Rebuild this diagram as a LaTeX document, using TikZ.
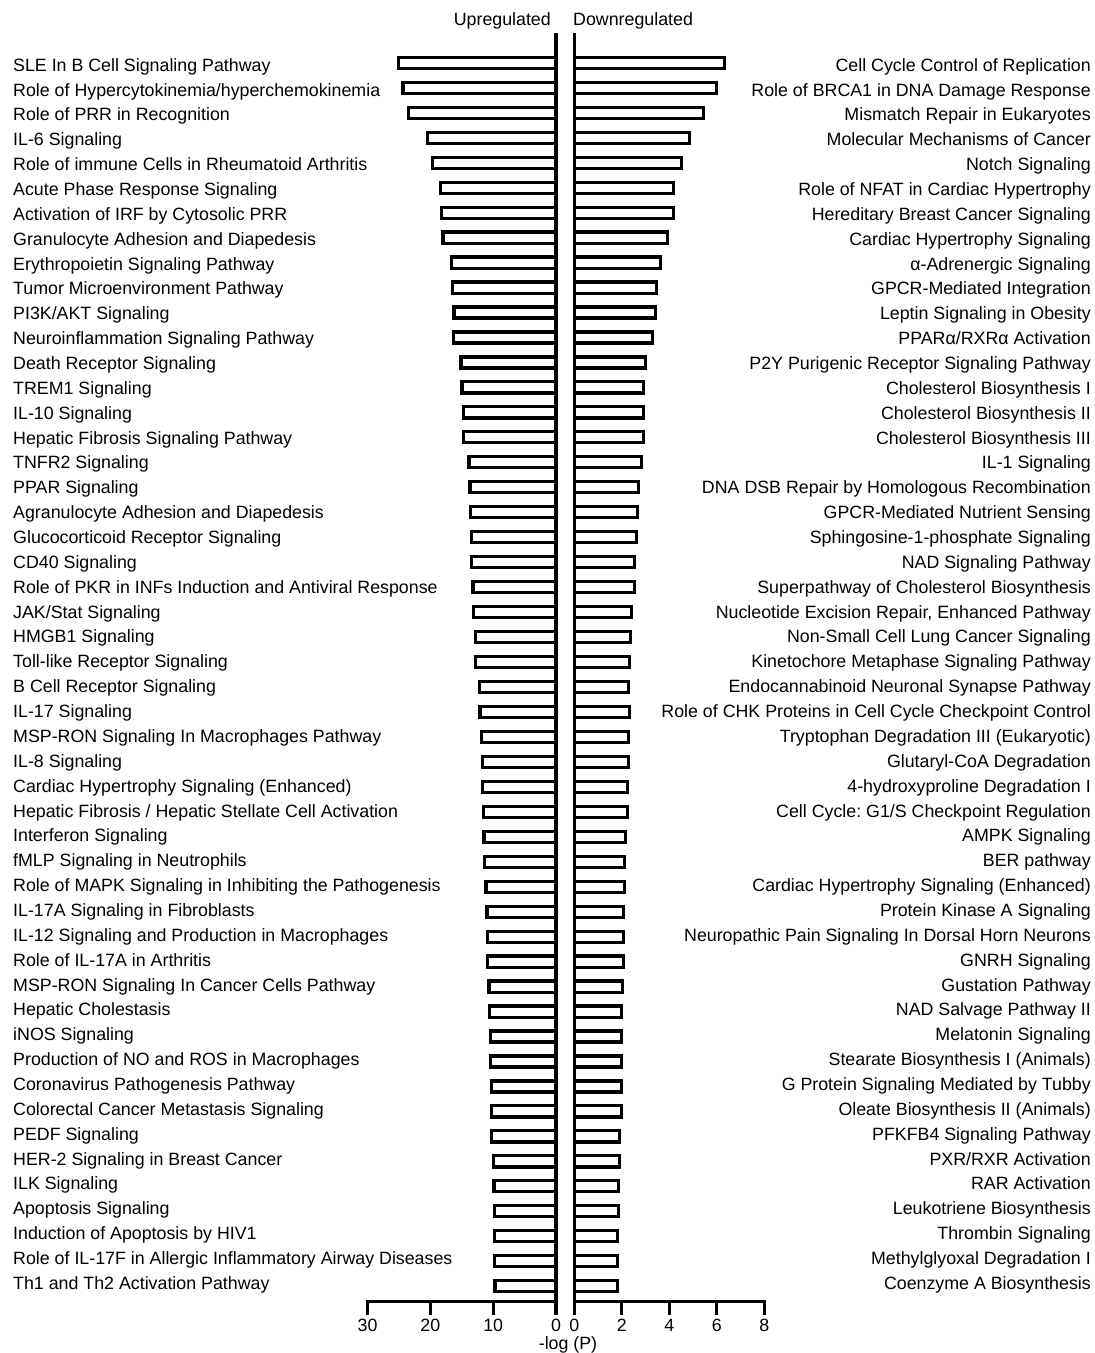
\documentclass[tikz,border=0pt]{standalone}
\usepackage{fontspec}
\setmainfont{Liberation Sans}
\frenchspacing
\begin{document}
\begin{tikzpicture}[x=1pt,y=-1pt,
  lab/.style={inner sep=0pt,font=\fontsize{17.8}{20}\selectfont\frenchspacing},
  barbox/.style={draw=black,line width=3.2pt,fill=white},
  axisline/.style={line width=3.2pt,line join=miter}]
\useasboundingbox (0,0) rectangle (1095,1353);
\clip (0,0) rectangle (1095,1353);
% bars
\foreach \xl/\xr [count=\i] in {396.7/725.7,401.3/718.3,406.7/705.3,426/690.7,430.7/683.3,439/675,440/675,441.3/669.3,449.7/661.7,451/658.3,452.3/656.7,452/653.7,459.3/646.7,460.3/645,462/644.7,462/644.7,467.3/643.3,468.3/640,469/639.3,470/637.7,470/636.3,471.3/636,472/633.3,474/632,474/630.7,477.7/630.3,478.3/630.7,480/630,480.7/630,481/629.3,481.7/628.7,482.3/627,482.7/626,484.3/626,485.3/625,486/625,486/625,487.3/624.3,488/623.3,488.7/623.3,488.7/623.3,489.7/623.3,490/622.7,490/621,491.7/621,492.3/620,492.7/620,493/619.3,493/619,493.3/618.7}{
  \pgfmathsetmacro{\yc}{62.85+(\i-1)*24.966}
  \draw[barbox] (\xl+1.6,\yc-5.55) rectangle (556,\yc+5.55);
  \draw[barbox] (574.3,\yc-5.55) rectangle (\xr-1.6,\yc+5.55);
}
% axes
\draw[axisline] (367.5,1315) -- (367.5,1301.7) -- (556,1301.7) -- (556,33.3);
\draw[axisline] (574.3,33.3) -- (574.3,1301.7) -- (764.3,1301.7) -- (764.3,1315);
\foreach \x/\t [count=\k] in {367.5/30,430.3/20,493.2/10,556/0}{
  \draw[line width=3.2pt] (\x,1301.7) -- (\x,1315);
  \node[lab,anchor=base] (tl\k) at (\x,1331.7) {\t};
}
\foreach \x/\t [count=\k] in {574.3/0,621.8/2,669.3/4,716.8/6,764.3/8}{
  \draw[line width=3.2pt] (\x,1301.7) -- (\x,1315);
  \node[lab,anchor=base] (tr\k) at (\x,1331.7) {\t};
}
\node[lab,anchor=base] (xlabel) at (568,1349) {-log (P)};
\node[lab,anchor=base east] (up) at (551,25) {Upregulated};
\node[lab,anchor=base west] (down) at (573,25) {Downregulated};
% left labels
\foreach \t [count=\i] in {
{SLE In B Cell Signaling Pathway},
{Role of Hypercytokinemia/hyperchemokinemia},
{Role of PRR in Recognition},
{IL-6 Signaling},
{Role of immune Cells in Rheumatoid Arthritis},
{Acute Phase Response Signaling},
{Activation of IRF by Cytosolic PRR},
{Granulocyte Adhesion and Diapedesis},
{Erythropoietin Signaling Pathway},
{Tumor Microenvironment Pathway},
{PI3K/AKT Signaling},
{Neuroinflammation Signaling Pathway},
{Death Receptor Signaling},
{TREM1 Signaling},
{IL-10 Signaling},
{Hepatic Fibrosis Signaling Pathway},
{TNFR2 Signaling},
{PPAR Signaling},
{Agranulocyte Adhesion and Diapedesis},
{Glucocorticoid Receptor Signaling},
{CD40 Signaling},
{Role of PKR in INFs Induction and Antiviral Response},
{JAK/Stat Signaling},
{HMGB1 Signaling},
{Toll-like Receptor Signaling},
{B Cell Receptor Signaling},
{IL-17 Signaling},
{MSP-RON Signaling In Macrophages Pathway},
{IL-8 Signaling},
{Cardiac Hypertrophy Signaling (Enhanced)},
{Hepatic Fibrosis / Hepatic Stellate Cell Activation},
{Interferon Signaling},
{fMLP Signaling in Neutrophils},
{Role of MAPK Signaling in Inhibiting the Pathogenesis},
{IL-17A Signaling in Fibroblasts},
{IL-12 Signaling and Production in Macrophages},
{Role of IL-17A in Arthritis},
{MSP-RON Signaling In Cancer Cells Pathway},
{Hepatic Cholestasis},
{iNOS Signaling},
{Production of NO and ROS in Macrophages},
{Coronavirus Pathogenesis Pathway},
{Colorectal Cancer Metastasis Signaling},
{PEDF Signaling},
{HER-2 Signaling in Breast Cancer},
{ILK Signaling},
{Apoptosis Signaling},
{Induction of Apoptosis by HIV1},
{Role of IL-17F in Allergic Inflammatory Airway Diseases},
{Th1 and Th2 Activation Pathway}}{
  \pgfmathsetmacro{\yb}{71.2+(\i-1)*24.86}
  \node[lab,anchor=base west] (L\i) at (13,\yb) {\t};
}
% right labels
\foreach \t [count=\i] in {
{Cell Cycle Control of Replication},
{Role of BRCA1 in DNA Damage Response},
{Mismatch Repair in Eukaryotes},
{Molecular Mechanisms of Cancer},
{Notch Signaling},
{Role of NFAT in Cardiac Hypertrophy},
{Hereditary Breast Cancer Signaling},
{Cardiac Hypertrophy Signaling},
{α-Adrenergic Signaling},
{GPCR-Mediated Integration\hspace{5pt}},
{Leptin Signaling in Obesity},
{PPARα/RXRα Activation},
{P2Y Purigenic Receptor Signaling Pathway},
{Cholesterol Biosynthesis I},
{Cholesterol Biosynthesis II\hspace{5pt}},
{Cholesterol Biosynthesis III},
{IL-1 Signaling},
{DNA DSB Repair by Homologous Recombination},
{GPCR-Mediated Nutrient Sensing\hspace{5pt}},
{Sphingosine-1-phosphate Signaling},
{NAD Signaling Pathway},
{Superpathway of Cholesterol Biosynthesis},
{Nucleotide Excision Repair, Enhanced Pathway},
{Non-Small Cell Lung Cancer Signaling},
{Kinetochore Metaphase Signaling Pathway},
{Endocannabinoid Neuronal Synapse Pathway},
{Role of CHK Proteins in Cell Cycle Checkpoint Control},
{Tryptophan Degradation III (Eukaryotic)},
{Glutaryl-CoA Degradation},
{4-hydroxyproline Degradation I},
{Cell Cycle: G1/S Checkpoint Regulation},
{AMPK Signaling},
{BER pathway},
{Cardiac Hypertrophy Signaling (Enhanced)},
{Protein Kinase A Signaling},
{Neuropathic Pain Signaling In Dorsal Horn Neurons},
{GNRH Signaling},
{Gustation Pathway},
{NAD Salvage Pathway II},
{Melatonin Signaling},
{Stearate Biosynthesis I (Animals)},
{G Protein Signaling Mediated by Tubby},
{Oleate Biosynthesis II (Animals)},
{PFKFB4 Signaling Pathway},
{PXR/RXR Activation},
{RAR Activation},
{Leukotriene Biosynthesis},
{Thrombin Signaling},
{Methylglyoxal Degradation I},
{Coenzyme A Biosynthesis}}{
  \pgfmathsetmacro{\yb}{71.2+(\i-1)*24.86}
  \node[lab,anchor=base east] (R\i) at (1091,\yb) {\t};
}
\end{tikzpicture}
\end{document}
